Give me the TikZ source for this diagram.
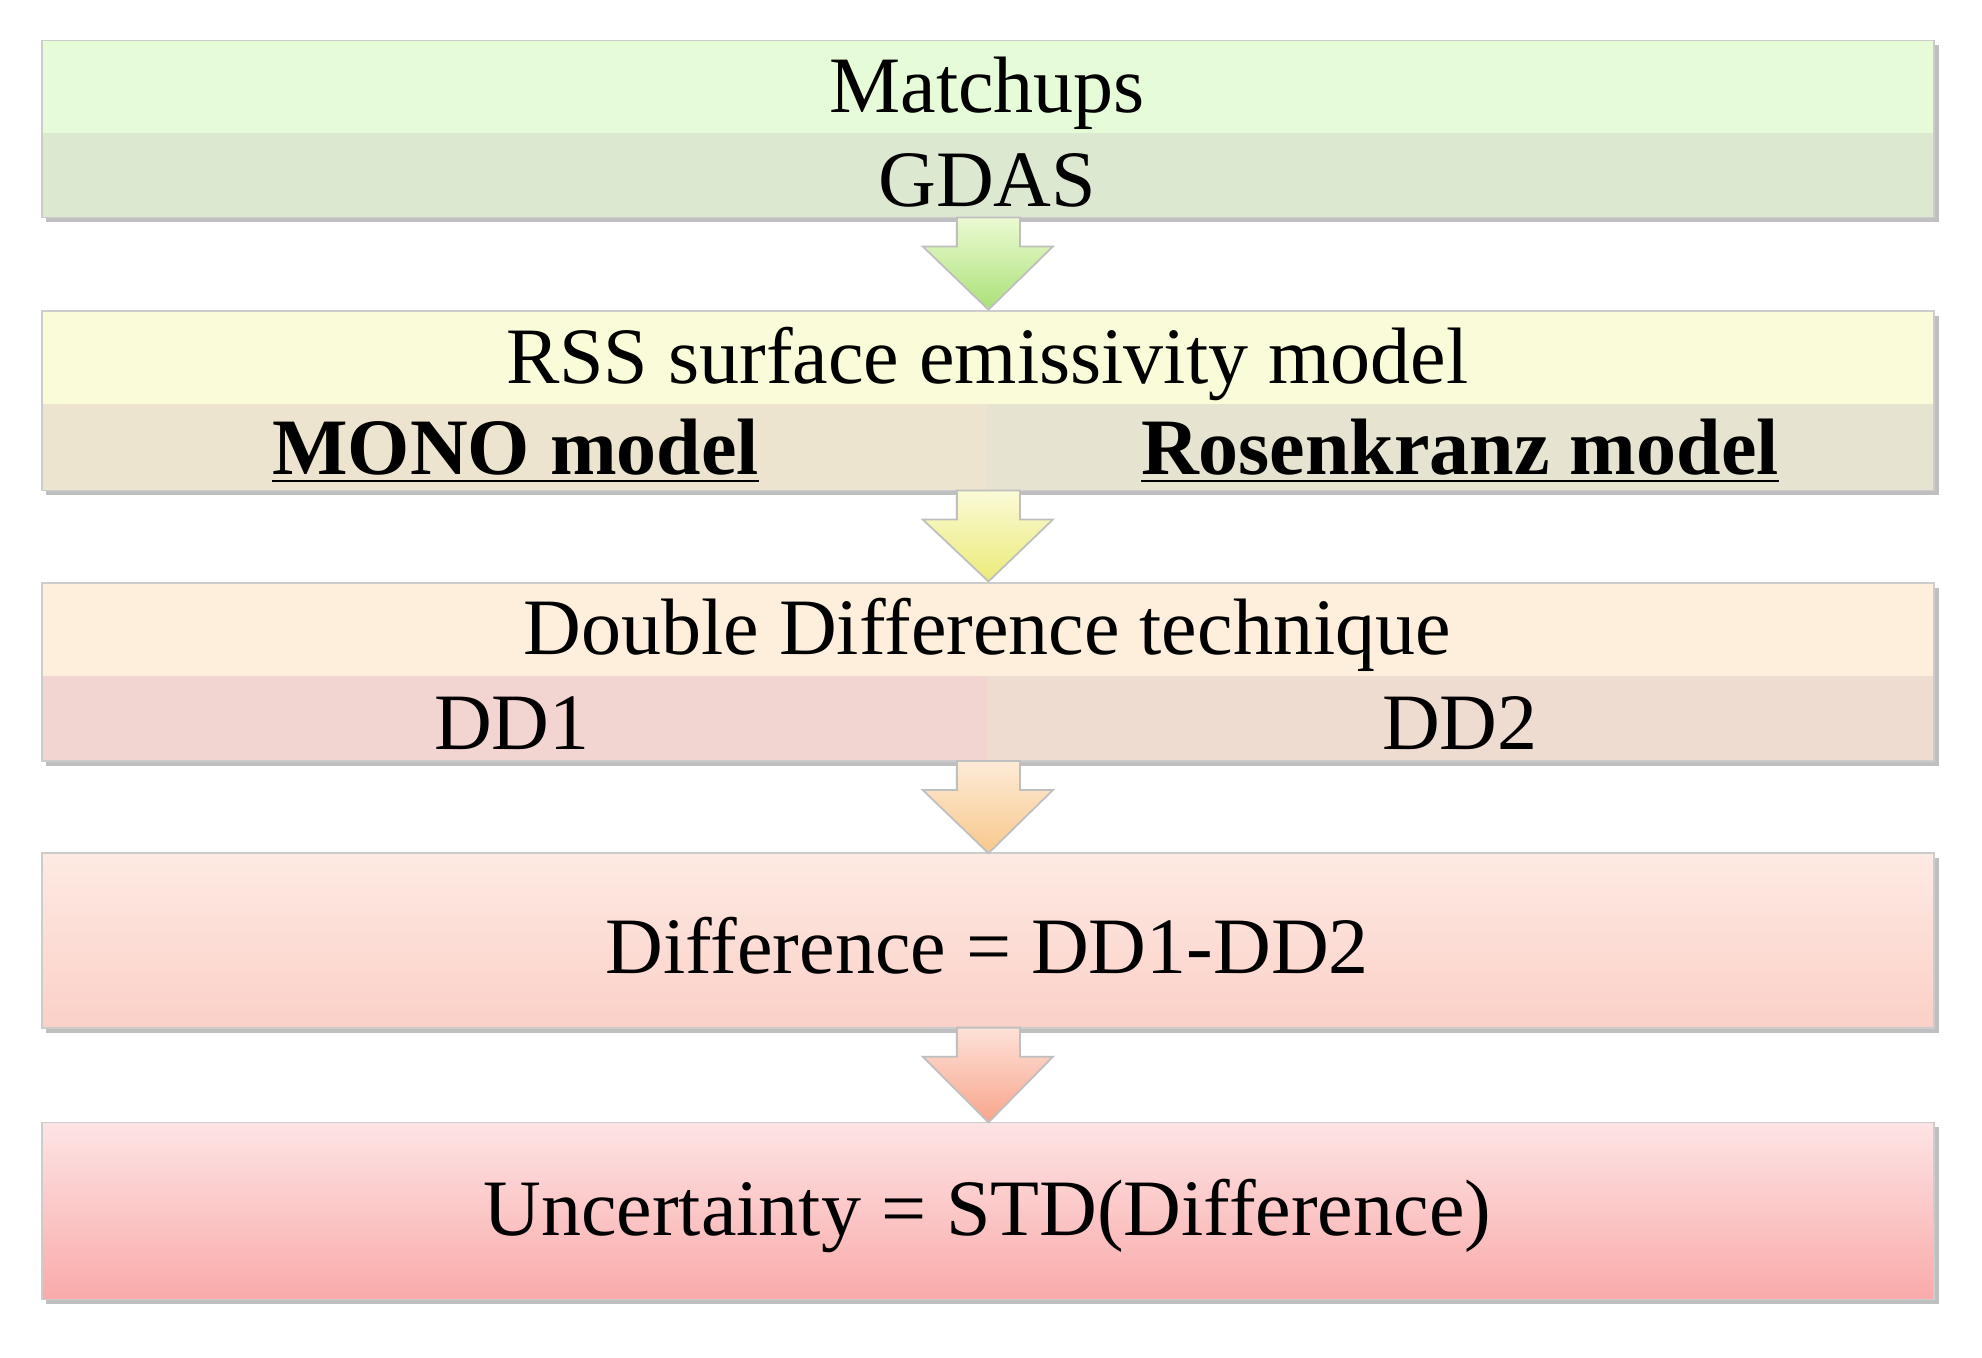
\documentclass[tikz,border=0pt]{standalone}
\usepackage{fontspec}
\setmainfont{Liberation Serif}
\begin{document}
\begin{tikzpicture}[x=0.01cm,y=-0.01cm,
  txt/.style={font=\fontsize{18}{21}\selectfont,inner sep=0pt,anchor=center},
  arr/.style={draw=gray!50,line width=0.6pt}]
\useasboundingbox (0,0) rectangle (1568,1074);
\fill[white] (0,0) rectangle (1568,1074);
% shadows
\foreach \a/\b in {32/172,246/388,461/602,675/813,888/1028}
  \fill[black!25] (36,\a+4) rectangle (1534,\b+4);
% box 1
\fill[color={rgb,255:red,230;green,251;blue,216}] (33,32) rectangle (1530,105);
\fill[color={rgb,255:red,220;green,232;blue,208}] (33,105) rectangle (1530,172);
\draw[gray!40] (33,32) rectangle (1530,172);
\node[txt] (t1) at (781,74) {Matchups};
\node[txt] (t2) at (781,143) {GDAS};
% box 2
\fill[color={rgb,255:red,250;green,251;blue,216}] (33,246) rectangle (1530,320);
\fill[color={rgb,255:red,237;green,228;blue,208}] (33,320) rectangle (781,388);
\fill[color={rgb,255:red,230;green,228;blue,208}] (781,320) rectangle (1530,388);
\draw[gray!40] (33,246) rectangle (1530,388);
\node[txt] (t3) at (781,288) {RSS surface emissivity model};
\node[txt,font=\fontsize{18}{21}\selectfont\bfseries] (t4) at (408,357) {\underline{MONO model}};
\node[txt,font=\fontsize{18}{21}\selectfont\bfseries] (t5) at (1155,357) {\underline{Rosenkranz model}};
% box 3
\fill[color={rgb,255:red,253;green,239;blue,220}] (33,461) rectangle (1530,535);
\fill[color={rgb,255:red,242;green,212;blue,208}] (33,535) rectangle (781,602);
\fill[color={rgb,255:red,239;green,220;blue,208}] (781,535) rectangle (1530,602);
\draw[gray!40] (33,461) rectangle (1530,602);
\node[txt] (t6) at (781,502) {Double Difference technique};
\node[txt] (t7) at (405,572) {DD1};
\node[txt] (t8) at (1155,572) {DD2};
% box 4
\shade[top color={rgb,255:red,253;green,234;blue,226},bottom color={rgb,255:red,251;green,208;blue,200}] (33,675) rectangle (1530,813);
\draw[gray!40] (33,675) rectangle (1530,813);
\node[txt] (t9) at (781,748) {Difference = DD1-DD2};
% box 5
\shade[top color={rgb,255:red,253;green,228;blue,228},bottom color={rgb,255:red,250;green,170;blue,170}] (33,888) rectangle (1530,1028);
\draw[gray!40] (33,888) rectangle (1530,1028);
\node[txt] (t10) at (781,962) {Uncertainty = STD(Difference)};
% arrows
\foreach \t/\b/\c/\d in {172/245/{rgb,255:red,236;green,250;blue,210}/{rgb,255:red,170;green,225;blue,120},
  388/460/{rgb,255:red,250;green,250;blue,215}/{rgb,255:red,235;green,235;blue,120},
  602/675/{rgb,255:red,253;green,235;blue,215}/{rgb,255:red,248;green,200;blue,140},
  813/888/{rgb,255:red,253;green,225;blue,215}/{rgb,255:red,248;green,165;blue,140}}{
  \shade[top color=\c,bottom color=\d,draw=gray!50] (757,\t) -- (807,\t) -- (807,\t+23) -- (833,\t+23) -- (782,\b) -- (730,\t+23) -- (757,\t+23) -- cycle;
}
\end{tikzpicture}
\end{document}
